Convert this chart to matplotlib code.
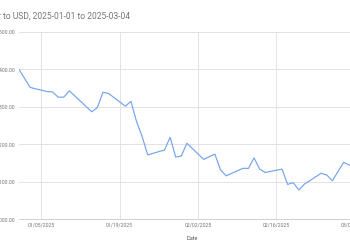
import numpy as np
import pandas as pd
import matplotlib
matplotlib.use("Agg")
import matplotlib.pyplot as plt
import matplotlib.dates as mdates
from matplotlib.ticker import FuncFormatter

# Maker to USD, vertex points
dates = ["2025-01-01", "2025-01-03", "2025-01-06", "2025-01-07", "2025-01-08",
         "2025-01-09", "2025-01-10", "2025-01-14", "2025-01-15", "2025-01-16",
         "2025-01-17", "2025-01-20", "2025-01-21", "2025-01-22", "2025-01-23",
         "2025-01-24", "2025-01-27", "2025-01-28", "2025-01-29", "2025-01-30",
         "2025-01-31", "2025-02-03", "2025-02-05", "2025-02-06", "2025-02-07",
         "2025-02-10", "2025-02-11", "2025-02-12", "2025-02-13", "2025-02-14",
         "2025-02-17", "2025-02-18", "2025-02-19", "2025-02-20", "2025-02-21",
         "2025-02-24", "2025-02-25", "2025-02-26", "2025-02-28", "2025-03-01",
         "2025-03-02", "2025-03-03", "2025-03-04"]
prices = [1400, 1352, 1341, 1340, 1326,
          1326, 1343, 1287, 1298, 1339,
          1336, 1302, 1315, 1261, 1221,
          1172, 1185, 1219, 1166, 1169,
          1203, 1160, 1174, 1132, 1116,
          1136, 1136, 1164, 1134, 1125,
          1134, 1093, 1098, 1078, 1094,
          1123, 1118, 1103, 1152, 1145,
          1140, 1135, 1130]
tick_dates = ["2025-01-05", "2025-01-19", "2025-02-02", "2025-02-16", "2025-03-02"]
y_ticks = [1000, 1100, 1200, 1300, 1400, 1500]

x = pd.to_datetime(dates)
ticks = pd.to_datetime(tick_dates)

plt.rcParams['font.family'] = ['Roboto', 'DejaVu Sans']

fig = plt.figure(figsize=(3.5, 2.5), dpi=100)
# plot area runs past the right edge, like the cropped screenshot
ax = fig.add_axes([19 / 350, 30.7 / 250, 347 / 350, 187.3 / 250])

ax.plot(x, prices, color="#74a3ee", lw=0.85, solid_joinstyle="miter")

ax.set_xlim(pd.Timestamp("2025-01-01"), pd.Timestamp("2025-03-04"))
ax.set_ylim(1000, 1500)
ax.set_yticks(y_ticks)
ax.yaxis.set_major_formatter(FuncFormatter(lambda v, p: f"{v:,.2f}"))
ax.set_xticks(ticks)
ax.xaxis.set_major_formatter(mdates.DateFormatter("%m/%d/%Y"))

ax.grid(True, color="#e3e3e3", lw=0.7)
ax.set_axisbelow(True)
for side in ["top", "right", "left"]:
    ax.spines[side].set_visible(False)
ax.spines["bottom"].set_color("#d0d0d0")
ax.spines["bottom"].set_linewidth(0.7)
ax.tick_params(length=0, labelsize=3.7, labelcolor="#757575", pad=2.5)

ax.set_xlabel("Date", fontsize=4, color="#555555", labelpad=6)

fig.text(130 / 350, 1 - 16 / 250, "Maker to USD, 2025-01-01 to 2025-03-04",
         ha="right", va="center", fontsize=6.15, color="#757575")

fig.savefig("out.png", dpi=100)
